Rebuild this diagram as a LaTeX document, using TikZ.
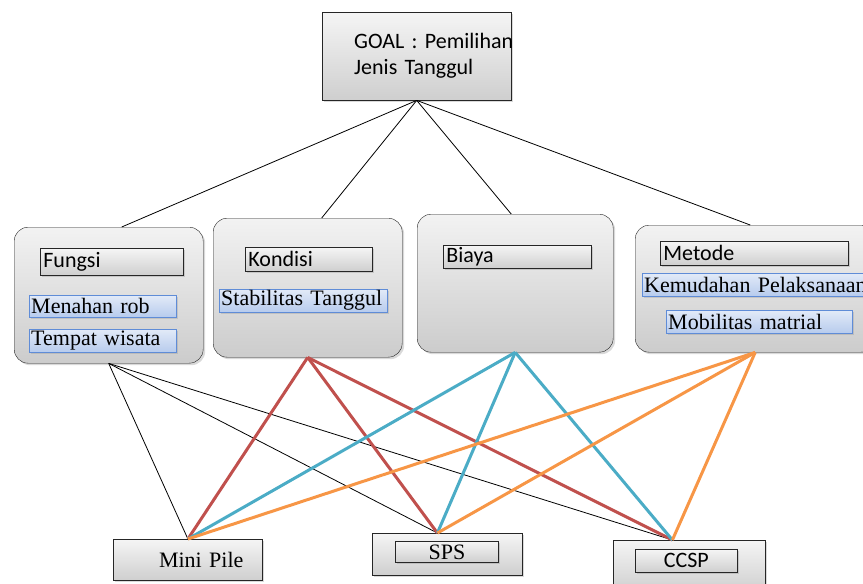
\documentclass[tikz,border=0pt]{standalone}
\usepackage{fontspec}
\setmainfont{Liberation Serif}
\newfontfamily\calibri{Carlito}
\usepackage{tikz}
\usetikzlibrary{shadows}
\definecolor{KondRed}{RGB}{192,80,77}
\definecolor{BiayaCyan}{RGB}{75,172,198}
\definecolor{MetOrange}{RGB}{247,150,70}
\definecolor{SubBlue}{RGB}{95,140,215}

\begin{document}
\begin{tikzpicture}[
  x=1pt, y=-1pt,
  shadebox/.style={draw=black!85, top color=gray!8, bottom color=gray!38, anchor=north west,
    drop shadow={shadow xshift=2pt, shadow yshift=-2pt, opacity=0.3}},
  goalbox/.style={shadebox, minimum width=189pt, minimum height=88pt, inner xsep=1pt, text width=187pt,
    align=left, execute at begin node={\leftskip=31pt\hyphenpenalty=10000\exhyphenpenalty=10000},
    font=\calibri\fontsize{22}{26}\selectfont},
  groupbox/.style={shadebox, rounded corners=14pt, top color=gray!10, bottom color=gray!40},
  critbox/.style={shadebox, thick, inner xsep=3pt, inner ysep=0pt, align=left, font=\calibri\fontsize{22}{24}\selectfont},
  subbox/.style={draw=SubBlue, top color=SubBlue!18, bottom color=SubBlue!45, anchor=north west, inner xsep=2pt,
    inner ysep=0pt, align=left, font=\fontsize{22}{24}\selectfont,
    drop shadow={shadow xshift=1.5pt, shadow yshift=-1.5pt, opacity=0.25}},
  altbox/.style={shadebox, thick, inner ysep=0pt, font=\fontsize{22}{24}\selectfont},
  line/.style={draw=black, line width=0.8pt},
  redline/.style={draw=KondRed, line width=3pt},
  cyanline/.style={draw=BiayaCyan, line width=3pt},
  orangeline/.style={draw=MetOrange, line width=3pt}
]
\useasboundingbox (0,0) rectangle (863,584);
\clip (0,0) rectangle (863,584);

% tujuan
\node[goalbox] (goal) at (322,12) {GOAL~:~Pemilihan\\Jenis~Tanggul};

% kriteria
\node[groupbox, minimum width=189pt, minimum height=136pt] (fungsi) at (14,227) {};
\node[groupbox, minimum width=189pt, minimum height=139pt] (kondisi) at (213,218) {};
\node[groupbox, minimum width=196pt, minimum height=138pt] (biaya) at (417,214) {};
\node[groupbox, minimum width=240pt, minimum height=127pt] (metode) at (635,225) {};

\node[critbox, text width=137pt, minimum height=27pt] (kfungsi) at (40,248) {Fungsi};
\node[critbox, text width=121pt, minimum height=24pt] (kkondisi) at (245,247) {Kondisi};
\node[critbox, text width=142pt, minimum height=23pt] (kbiaya) at (443,245) {Biaya};
\node[critbox, text width=182pt, minimum height=24pt] (kmetode) at (660,241) {Metode};

% sub kriteria
\node[subbox, text width=143pt, minimum height=22pt] (rob) at (29,295) {Menahan rob};
\node[subbox, text width=143pt, minimum height=23pt] (wisata) at (29,329) {Tempat wisata};
\node[subbox, text width=164pt, minimum height=23pt] (stabil) at (219,289) {Stabilitas Tanggul};
\node[subbox, text width=236pt, minimum height=23pt] (mudah) at (642,273) {Kemudahan Pelaksanaan};
\node[subbox, text width=182pt, minimum height=23pt] (mobil) at (666,310) {Mobilitas matrial};

% alternatif
\node[altbox, minimum width=149pt, minimum height=41pt, inner xsep=19pt, text width=111pt, align=right] (minipile) at (113,539) {Mini Pile};
\node[altbox, minimum width=150pt, minimum height=42pt] (spsbox) at (372,533) {};
\node[altbox, minimum width=103pt, minimum height=21pt, drop shadow={opacity=0}] (sps) at (395,541) {SPS};
\node[altbox, minimum width=152pt, minimum height=52pt] (ccspbox) at (613,540) {};
\node[altbox, minimum width=102pt, minimum height=23pt, font=\calibri\fontsize{22}{24}\selectfont, drop shadow={opacity=0}] (ccsp) at (635,549) {CCSP};

\coordinate (tomp) at (minipile.north);
\coordinate (tosps) at ([xshift=-10]spsbox.north);
\coordinate (toccsp) at ([xshift=-17]ccspbox.north);

\draw[line] (goal.south) -- ([xshift=13]fungsi.north);
\draw[line] (goal.south) -- ([xshift=14]kondisi.north);
\draw[line] (goal.south) -- ([xshift=-4]biaya.north);
\draw[line] (goal.south) -- ([xshift=-5]metode.north);

\draw[line] (fungsi.south) -- (tomp);
\draw[line] (fungsi.south) -- (tosps);
\draw[line] (fungsi.south) -- (toccsp);
\draw[redline] (kondisi.south) -- (tomp);
\draw[redline] (kondisi.south) -- (tosps);
\draw[redline] (kondisi.south) -- (toccsp);
\draw[cyanline] (biaya.south) -- (tomp);
\draw[cyanline] (biaya.south) -- (tosps);
\draw[cyanline] (biaya.south) -- (toccsp);
\draw[orangeline] (metode.south) -- (tomp);
\draw[orangeline] (metode.south) -- (tosps);
\draw[orangeline] (metode.south) -- (toccsp);
\end{tikzpicture}
\end{document}
